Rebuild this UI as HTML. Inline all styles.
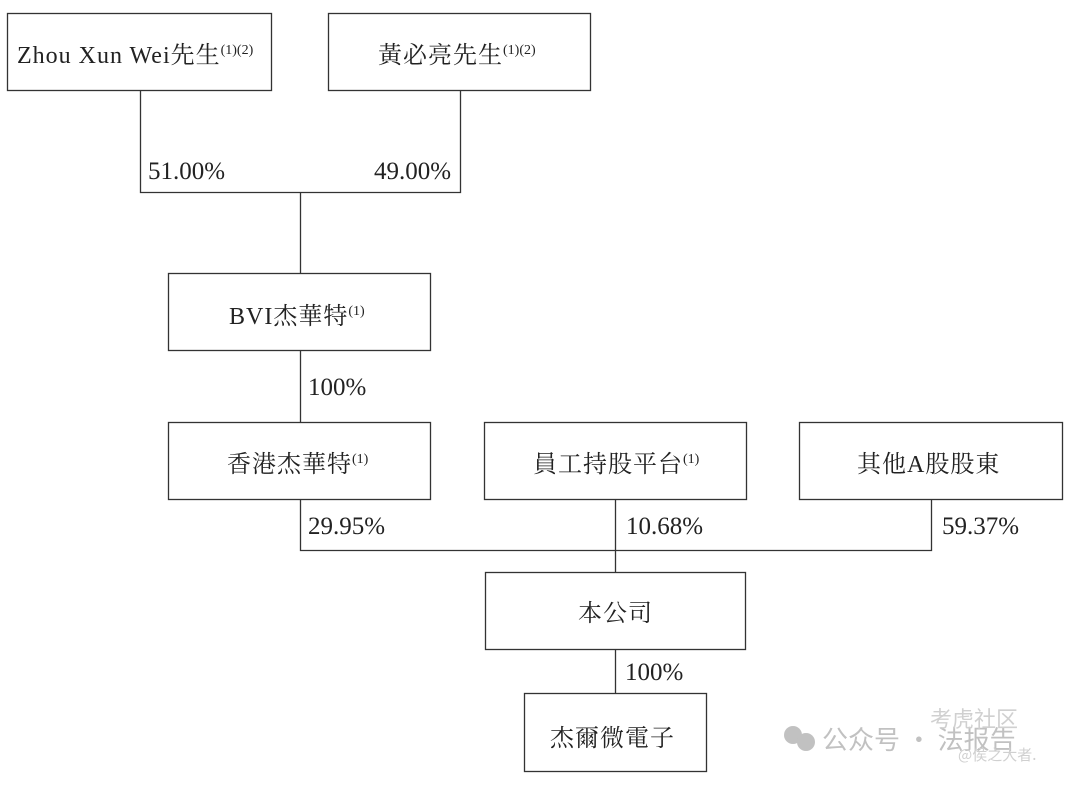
<!DOCTYPE html>
<html><head><meta charset="utf-8"><style>
html,body{margin:0;padding:0;background:#fff;}
svg text{font-family:"Liberation Serif","Noto Serif CJK SC",serif;fill:#222;}
</style></head><body>
<svg width="1075" height="780" xmlns="http://www.w3.org/2000/svg">
<g fill="none" stroke="#333" stroke-width="1.3">
<rect x="7.5" y="13.5" width="264" height="77"/>
<rect x="328.5" y="13.5" width="262" height="77"/>
<polyline points="140.5,91 140.5,192.5 460.5,192.5 460.5,91"/>
<line x1="300.5" y1="192" x2="300.5" y2="273"/>
<rect x="168.5" y="273.5" width="262" height="77"/>
<line x1="300.5" y1="351" x2="300.5" y2="422"/>
<rect x="168.5" y="422.5" width="262" height="77"/>
<rect x="484.5" y="422.5" width="262" height="77"/>
<rect x="799.5" y="422.5" width="263" height="77"/>
<polyline points="300.5,500 300.5,550.5 931.5,550.5 931.5,500"/>
<line x1="615.5" y1="500" x2="615.5" y2="572"/>
<rect x="485.5" y="572.5" width="260" height="77"/>
<line x1="615.5" y1="650" x2="615.5" y2="693"/>
<rect x="524.5" y="693.5" width="182" height="78"/>
</g>
<g font-size="24" letter-spacing="1">
<text x="17" y="63">Zhou Xun Wei先生<tspan font-size="14" dy="-9" letter-spacing="0">(1)(2)</tspan></text>
<text x="378" y="63">黃必亮先生<tspan font-size="14" dy="-9" letter-spacing="0">(1)(2)</tspan></text>
<text x="229" y="324">BVI杰華特<tspan font-size="14" dy="-9" letter-spacing="0">(1)</tspan></text>
<text x="227" y="472">香港杰華特<tspan font-size="14" dy="-9" letter-spacing="0">(1)</tspan></text>
<text x="533" y="472">員工持股平台<tspan font-size="14" dy="-9" letter-spacing="0">(1)</tspan></text>
<text x="857" y="472">其他A股股東</text>
<text x="578" y="621">本公司</text>
<text x="550" y="746">杰爾微電子</text>
</g>
<g font-size="25">
<text x="148" y="179">51.00%</text>
<text x="374" y="179">49.00%</text>
<text x="308" y="395">100%</text>
<text x="308" y="534">29.95%</text>
<text x="626" y="534">10.68%</text>
<text x="942" y="534">59.37%</text>
<text x="625" y="680">100%</text>
</g>
<g fill="#bbb" opacity="0.9">
<circle cx="793" cy="735" r="9"/><circle cx="806" cy="742" r="9"/>
<text x="822" y="749" font-size="26" style="fill:#bbb;font-family:'Noto Sans CJK SC',sans-serif">公众号 · 法报告</text>
<text x="930" y="727" font-size="22" style="fill:#ccc;font-family:'Noto Sans CJK SC',sans-serif">考虎社区</text>
<text x="958" y="760" font-size="15" style="fill:#ccc;font-family:'Noto Sans CJK SC',sans-serif">@侯之大者.</text>
</g>
</svg>
</body></html>
